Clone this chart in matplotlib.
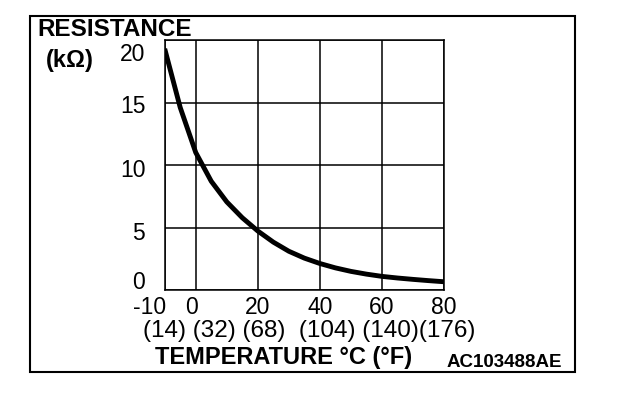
import matplotlib
matplotlib.use("Agg")
import matplotlib.pyplot as plt
from matplotlib.patches import Rectangle
from matplotlib.transforms import ScaledTranslation

plt.rcParams['font.family'] = ['Liberation Sans', 'DejaVu Sans']
plt.rcParams['axes.unicode_minus'] = False

# data
temp_c = [-10, -5, 0, 5, 10, 15, 20, 25, 30, 35, 40, 45, 50, 55, 60, 65, 70, 75, 80]
resistance = [19.3, 14.6, 11.0, 8.7, 7.05, 5.78, 4.72, 3.83, 3.1, 2.55, 2.12, 1.77,
              1.49, 1.27, 1.09, 0.96, 0.85, 0.75, 0.66]

x_ticks = [-10, 0, 20, 40, 60, 80]
y_ticks = [0, 5, 10, 15, 20]
f_labels = ['(14)', '(32)', '(68)', '(104)', '(140)', '(176)']

W, H = 624, 396
fig = plt.figure(figsize=(W / 100, H / 100), dpi=100)
ax = fig.add_axes([164.7 / W, 1 - 290 / H, (444 - 164.7) / W, (290 - 40) / H])

ax.plot(temp_c, resistance, color='black', lw=3.5, solid_capstyle='butt',
        solid_joinstyle='round')
ax.set_xlim(-10, 80)
ax.set_ylim(0, 20)
ax.set_xticks(x_ticks)
ax.set_yticks(y_ticks)
ax.grid(True, color='black', lw=1.1)
for s in ax.spines.values():
    s.set_linewidth(1.1)
ax.tick_params(length=0, labelsize=16.5)
ax.tick_params(axis='y', pad=14)
ax.tick_params(axis='x', pad=4.5)

# nudge tick labels like the original drawing
x_shift = [-15, -4, 0, 0, 0, 0]
for lab, dx in zip(ax.get_xticklabels(), x_shift):
    lab.set_transform(lab.get_transform() + ScaledTranslation(dx / 100, 0, fig.dpi_scale_trans))
y_shift = [10, -3, -2.5, -1.5, -11.5]
for lab, dy in zip(ax.get_yticklabels(), y_shift):
    lab.set_transform(lab.get_transform() + ScaledTranslation(0, dy / 100, fig.dpi_scale_trans))


def px(x, y):
    return x / W, 1 - y / H


fig.text(*px(37, 36), 'RESISTANCE', fontsize=17.5, fontweight='bold', va='baseline')
fig.text(*px(70, 61), '(kΩ)', fontsize=17, fontweight='bold', ha='center', va='center')
fig.text(*px(475, 331), ' '.join(f_labels[:3]) + '  ' + ' '.join(f_labels[3:5]) + f_labels[5],
         fontsize=17.5, ha='right', va='center')
fig.text(*px(155, 364), 'TEMPERATURE °C (°F)', fontsize=17, fontweight='bold', va='baseline')
fig.text(*px(447, 367), 'AC103488AE', fontsize=13.5, fontweight='bold', va='baseline')

fig.patches.append(Rectangle(px(30, 372), (575 - 30) / W, (372 - 16) / H,
                             transform=fig.transFigure, fill=False, lw=1.5, ec='black'))

fig.savefig('out.png', dpi=100, facecolor='white')
